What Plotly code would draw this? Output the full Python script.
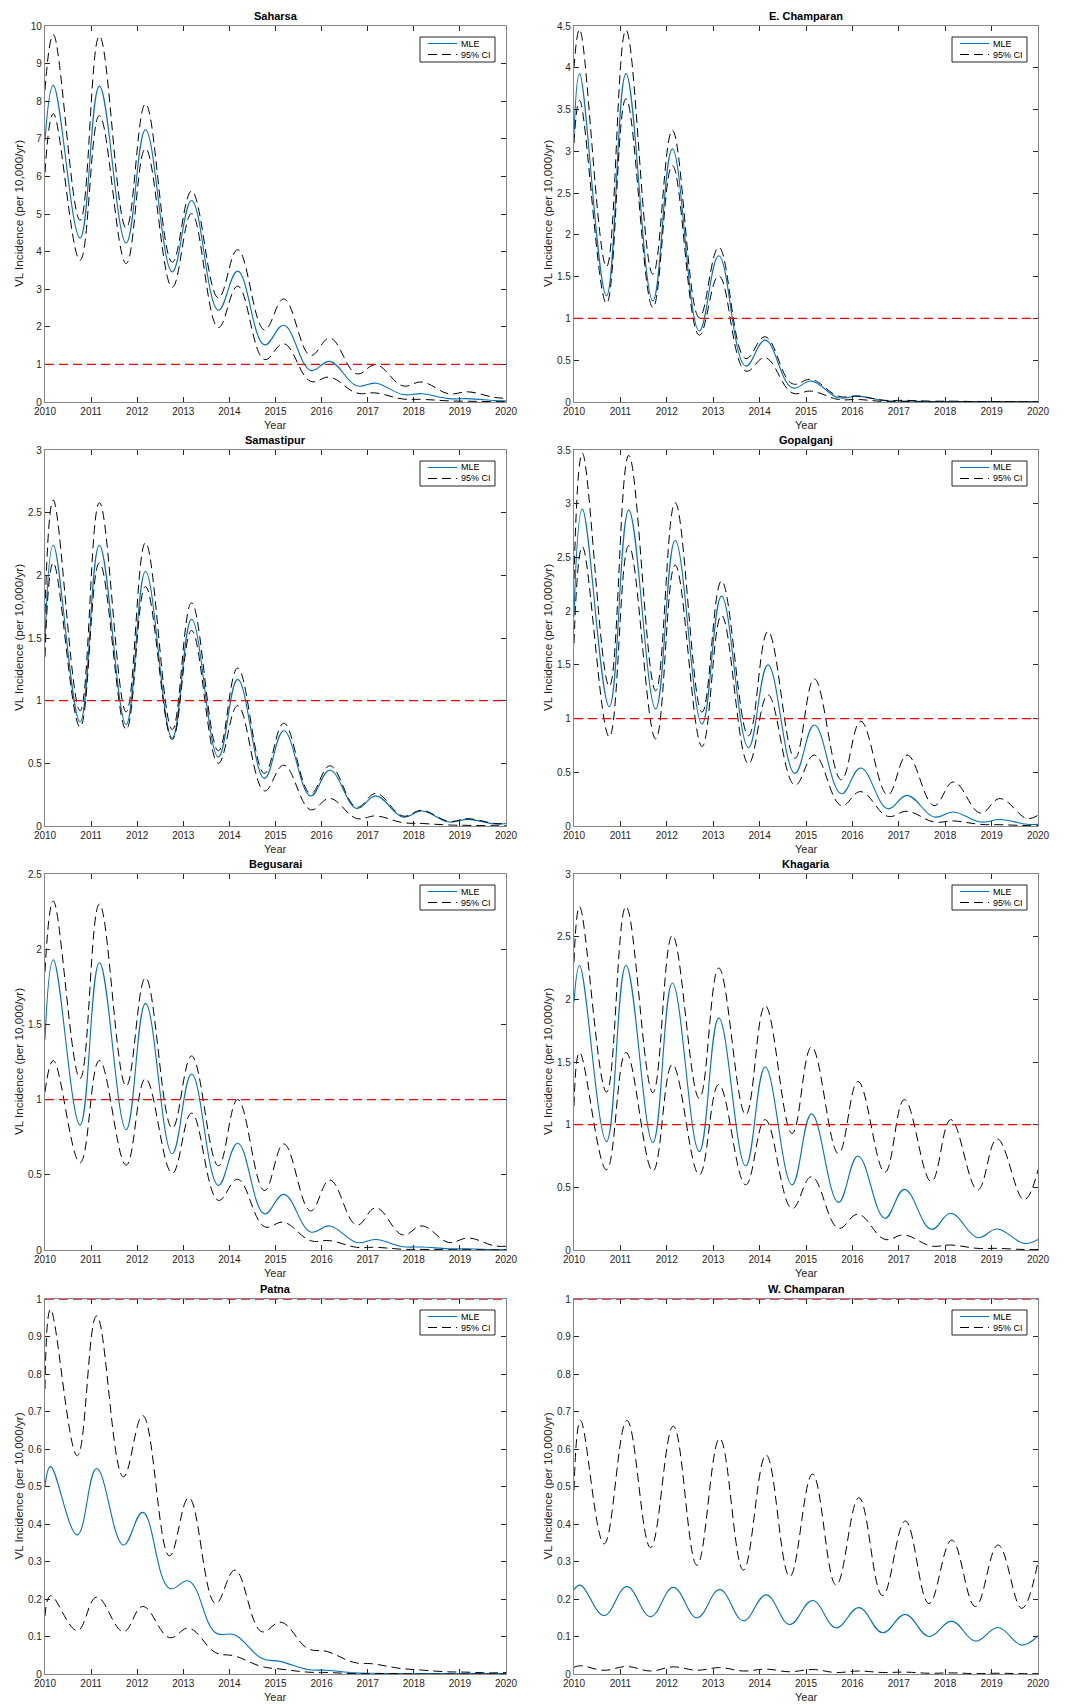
import plotly.graph_objects as go
from plotly.subplots import make_subplots

# ---------------- data ----------------
YEARS = list(range(2010, 2021))
THRESHOLD = 1.0

# sample times: start, then (peak, trough) for each year, then end
T_A = [2010.0, 2010.18, 2010.76, 2011.18, 2011.76, 2012.18, 2012.76, 2013.18, 2013.76,
       2014.18, 2014.76, 2015.18, 2015.76, 2016.18, 2016.76, 2017.18, 2017.76,
       2018.18, 2018.76, 2019.18, 2019.76, 2020.0]
T_B = [2010.0, 2010.12, 2010.70, 2011.12, 2011.70, 2012.12, 2012.70, 2013.12, 2013.70,
       2014.12, 2014.70, 2015.12, 2015.70, 2016.12, 2016.70, 2017.12, 2017.70,
       2018.12, 2018.70, 2019.12, 2019.70, 2020.0]
T_C = [2010.0, 2010.14, 2010.65, 2011.14, 2011.65, 2012.14, 2012.65, 2013.14, 2013.65,
       2014.14, 2014.65, 2015.14, 2015.65, 2016.14, 2016.65, 2017.14, 2017.65,
       2018.14, 2018.65, 2019.14, 2019.65, 2020.0]

districts = ["Saharsa", "E. Champaran", "Samastipur", "Gopalganj",
             "Begusarai", "Khagaria", "Patna", "W. Champaran"]
times = [T_A, T_B, T_A, T_A, T_A, T_B, T_B, T_C]
y_max = [10, 4.5, 3, 3.5, 2.5, 3, 1, 1]
y_step = [1, 0.5, 0.5, 0.5, 0.5, 0.5, 0.1, 0.1]
legend_labels = ["MLE", "95% CI"]
x_title = "Year"
y_title = "VL Incidence (per 10,000/yr)"

saharsa_mle = [6.95, 8.42, 4.36, 8.40, 4.23, 7.24, 3.46, 5.36, 2.44, 3.48, 1.52, 2.04, 0.84,
               1.08, 0.43, 0.50, 0.20, 0.22, 0.09, 0.09, 0.04, 0.03]
saharsa_hi = [8.3, 9.77, 4.83, 9.73, 4.63, 7.93, 3.72, 5.61, 2.77, 4.05, 1.92, 2.74, 1.24,
              1.70, 0.75, 0.99, 0.43, 0.53, 0.22, 0.27, 0.12, 0.10]
saharsa_lo = [6.1, 7.67, 3.77, 7.62, 3.68, 6.74, 3.05, 5.01, 1.98, 3.08, 1.13, 1.55, 0.55,
              0.66, 0.24, 0.24, 0.08, 0.07, 0.03, 0.02, 0.01, 0.01]

echamp_mle = [3.2, 3.93, 1.27, 3.93, 1.21, 3.03, 0.85, 1.75, 0.43, 0.74, 0.17, 0.25, 0.05,
              0.07, 0.015, 0.012, 0.005, 0.004, 0.003, 0.003, 0.002, 0.002]
echamp_hi = [4.0, 4.46, 1.62, 4.45, 1.53, 3.25, 1.01, 1.85, 0.52, 0.78, 0.22, 0.27, 0.07,
             0.07, 0.02, 0.02, 0.01, 0.01, 0.005, 0.005, 0.004, 0.004]
echamp_lo = [3.1, 3.61, 1.18, 3.63, 1.13, 2.83, 0.80, 1.51, 0.37, 0.53, 0.11, 0.13, 0.03,
             0.03, 0.005, 0.005, 0.002, 0.002, 0.001, 0.001, 0.001, 0.001]

samast_mle = [1.47, 2.24, 0.83, 2.24, 0.81, 2.03, 0.70, 1.65, 0.55, 1.17, 0.38, 0.76, 0.24,
              0.445, 0.14, 0.24, 0.072, 0.12, 0.032, 0.053, 0.016, 0.02]
samast_hi = [1.7, 2.60, 0.92, 2.58, 0.91, 2.26, 0.77, 1.78, 0.60, 1.26, 0.42, 0.82, 0.26,
             0.48, 0.15, 0.26, 0.08, 0.125, 0.037, 0.058, 0.02, 0.02]
samast_lo = [1.35, 2.10, 0.79, 2.10, 0.77, 1.91, 0.69, 1.56, 0.50, 0.96, 0.28, 0.485, 0.13,
             0.22, 0.06, 0.08, 0.027, 0.02, 0.008, 0.005, 0.002, 0.002]

gopal_mle = [1.95, 2.95, 1.11, 2.94, 1.09, 2.66, 0.95, 2.14, 0.73, 1.50, 0.49, 0.94, 0.30,
             0.54, 0.16, 0.285, 0.084, 0.13, 0.037, 0.06, 0.016, 0.015]
gopal_hi = [2.3, 3.47, 1.30, 3.45, 1.26, 3.01, 1.06, 2.28, 0.84, 1.81, 0.63, 1.37, 0.43,
            0.975, 0.29, 0.66, 0.19, 0.41, 0.12, 0.255, 0.07, 0.10]
gopal_lo = [1.7, 2.60, 0.83, 2.61, 0.81, 2.43, 0.74, 1.96, 0.58, 1.22, 0.38, 0.66, 0.19,
            0.32, 0.09, 0.137, 0.037, 0.047, 0.015, 0.012, 0.004, 0.003]

begus_mle = [1.40, 1.93, 0.83, 1.91, 0.80, 1.64, 0.64, 1.17, 0.43, 0.71, 0.24, 0.37, 0.12,
             0.16, 0.05, 0.07, 0.022, 0.02, 0.008, 0.008, 0.003, 0.003]
begus_hi = [1.85, 2.32, 1.14, 2.30, 1.09, 1.81, 0.81, 1.29, 0.56, 1.00, 0.395, 0.705, 0.26,
            0.465, 0.166, 0.28, 0.10, 0.16, 0.05, 0.08, 0.027, 0.025]
begus_lo = [1.05, 1.26, 0.58, 1.26, 0.565, 1.14, 0.51, 0.91, 0.33, 0.47, 0.155, 0.184, 0.062,
            0.062, 0.018, 0.018, 0.005, 0.004, 0.002, 0.002, 0.001, 0.001]

khag_mle = [1.98, 2.27, 0.865, 2.27, 0.857, 2.13, 0.785, 1.85, 0.67, 1.46, 0.52, 1.086, 0.38,
            0.75, 0.253, 0.484, 0.165, 0.293, 0.098, 0.168, 0.053, 0.085]
khag_hi = [2.3, 2.74, 1.26, 2.74, 1.256, 2.51, 1.21, 2.25, 1.08, 1.95, 0.93, 1.62, 0.77,
           1.344, 0.62, 1.20, 0.546, 1.04, 0.48, 0.886, 0.40, 0.64]
khag_lo = [1.15, 1.576, 0.64, 1.576, 0.63, 1.48, 0.60, 1.32, 0.52, 1.04, 0.33, 0.585, 0.173,
           0.285, 0.085, 0.12, 0.032, 0.04, 0.013, 0.013, 0.004, 0.004]

patna_mle = [0.501, 0.553, 0.371, 0.548, 0.344, 0.431, 0.228, 0.248, 0.11, 0.104, 0.042, 0.033,
             0.012, 0.01, 0.003, 0.002, 0.001, 0.001, 0.001, 0.001, 0.001, 0.001]
patna_hi = [0.76, 0.972, 0.582, 0.955, 0.526, 0.689, 0.315, 0.47, 0.188, 0.277, 0.113, 0.138,
            0.068, 0.06, 0.031, 0.027, 0.015, 0.011, 0.006, 0.005, 0.003, 0.004]
patna_lo = [0.155, 0.209, 0.116, 0.205, 0.113, 0.18, 0.097, 0.122, 0.057, 0.048, 0.02, 0.013,
            0.005, 0.004, 0.001, 0.001, 0.001, 0.0, 0.0, 0.0, 0.0, 0.0]

wchamp_mle = [0.225, 0.237, 0.156, 0.233, 0.153, 0.231, 0.15, 0.225, 0.142, 0.211, 0.132, 0.196,
              0.123, 0.177, 0.11, 0.159, 0.10, 0.141, 0.088, 0.124, 0.077, 0.102]
wchamp_hi = [0.49, 0.676, 0.347, 0.676, 0.337, 0.661, 0.29, 0.628, 0.277, 0.584, 0.26, 0.533,
             0.237, 0.47, 0.209, 0.408, 0.188, 0.357, 0.18, 0.344, 0.175, 0.30]
wchamp_lo = [0.018, 0.022, 0.01, 0.02, 0.008, 0.019, 0.01, 0.017, 0.008, 0.013, 0.006, 0.012,
             0.004, 0.008, 0.004, 0.005, 0.002, 0.003, 0.001, 0.002, 0.001, 0.001]

mle = [saharsa_mle, echamp_mle, samast_mle, gopal_mle, begus_mle, khag_mle, patna_mle, wchamp_mle]
upper = [saharsa_hi, echamp_hi, samast_hi, gopal_hi, begus_hi, khag_hi, patna_hi, wchamp_hi]
lower = [saharsa_lo, echamp_lo, samast_lo, gopal_lo, begus_lo, khag_lo, patna_lo, wchamp_lo]

# ---------------- layout geometry (page pixels) ----------------
W, H = 1067, 1704
OFF = 8  # default page margin in front of the plot div
col_px = [(45, 506), (574, 1038)]
row_px = [(26, 402), (450, 826), (874, 1250), (1299, 1674)]

FONT = "Liberation Sans, Arial, Helvetica, sans-serif"
AX = "#262626"
FRAME = "#858585"
BLUE = "#0072BD"
DASH = "9px,5px"


def px(x):
    return (x - OFF) / W


def py(y):
    return 1 - (y - OFF) / H


fig = make_subplots(rows=4, cols=2, horizontal_spacing=0.05, vertical_spacing=0.04)

for i, name in enumerate(districts):
    r, c = i // 2 + 1, i % 2 + 1
    t = times[i]
    spl = dict(shape="spline", smoothing=1.15)
    fig.add_trace(go.Scatter(x=t, y=mle[i], mode="lines", name=legend_labels[0],
                             showlegend=False, line=dict(color=BLUE, width=1.1, **spl)),
                  row=r, col=c)
    fig.add_trace(go.Scatter(x=t, y=upper[i], mode="lines", name=legend_labels[1],
                             showlegend=False,
                             line=dict(color="black", width=1.0, dash=DASH, **spl)),
                  row=r, col=c)
    fig.add_trace(go.Scatter(x=t, y=lower[i], mode="lines", name=legend_labels[1],
                             showlegend=False,
                             line=dict(color="black", width=1.0, dash=DASH, **spl)),
                  row=r, col=c)
    fig.add_hline(y=THRESHOLD, line=dict(color="#ff0000", width=1.3, dash=DASH),
                  row=r, col=c)

    x0, x1 = col_px[c - 1]
    top, bot = row_px[r - 1]
    sfx = "" if i == 0 else str(i + 1)
    fig.update_layout(**{
        f"xaxis{sfx}": dict(domain=[px(x0), px(x1)], range=[YEARS[0], YEARS[-1]], tickvals=YEARS,
                            tickformat="d", ticks="inside", ticklen=5, tickcolor=AX,
                            showline=True, linecolor=FRAME, linewidth=1.3, mirror="ticks",
                            showgrid=False, zeroline=False, automargin=False,
                            tickfont=dict(size=10, color=AX, family=FONT)),
        f"yaxis{sfx}": dict(domain=[py(bot), py(top)], range=[0, y_max[i]], dtick=y_step[i], tick0=0,
                            ticks="inside", ticklen=5, tickcolor=AX,
                            showline=True, linecolor=FRAME, linewidth=1.3, mirror="ticks",
                            showgrid=False, zeroline=False, automargin=False,
                            tickfont=dict(size=10, color=AX, family=FONT)),
    })
    # subplot title
    fig.add_annotation(text=f"<b>{name}</b>", x=px((x0 + x1) / 2), y=py(top - 10),
                       xref="paper", yref="paper", xanchor="center", yanchor="middle",
                       showarrow=False, font=dict(size=11, color="black", family=FONT))
    # axis titles
    fig.add_annotation(text=x_title, x=px((x0 + x1) / 2), y=py(bot + 23),
                       xref="paper", yref="paper", xanchor="center", yanchor="middle",
                       showarrow=False, font=dict(size=11, color=AX, family=FONT))
    fig.add_annotation(text=y_title, x=px(x0 - 27), y=py((top + bot) / 2), textangle=-90,
                       xref="paper", yref="paper", xanchor="center", yanchor="middle",
                       showarrow=False, font=dict(size=11.7, color=AX, family=FONT))

    # MATLAB-style legend box (top-right, inside axes)
    fig.add_shape(type="rect", xref="paper", yref="paper",
                  x0=px(x1 - 86), x1=px(x1 - 11), y0=py(top + 36), y1=py(top + 11),
                  line=dict(color=AX, width=1), fillcolor="white", layer="above")
    fig.add_shape(type="line", xref="paper", yref="paper",
                  x0=px(x1 - 78), x1=px(x1 - 49), y0=py(top + 17.5), y1=py(top + 17.5),
                  line=dict(color=BLUE, width=1), layer="above")
    fig.add_shape(type="line", xref="paper", yref="paper",
                  x0=px(x1 - 78), x1=px(x1 - 49), y0=py(top + 28.5), y1=py(top + 28.5),
                  line=dict(color="black", width=1, dash=DASH), layer="above")
    for k, lab in enumerate(legend_labels):
        fig.add_annotation(text=lab, x=px(x1 - 47), y=py(top + 17.5 + 11 * k),
                           xref="paper", yref="paper", xanchor="left", yanchor="middle",
                           showarrow=False, font=dict(size=9, color="black", family=FONT))

fig.update_layout(width=W, height=H, margin=dict(l=0, r=0, t=0, b=0, autoexpand=False),
                  paper_bgcolor="white", plot_bgcolor="white", showlegend=False)

fig.write_html("out.html")
